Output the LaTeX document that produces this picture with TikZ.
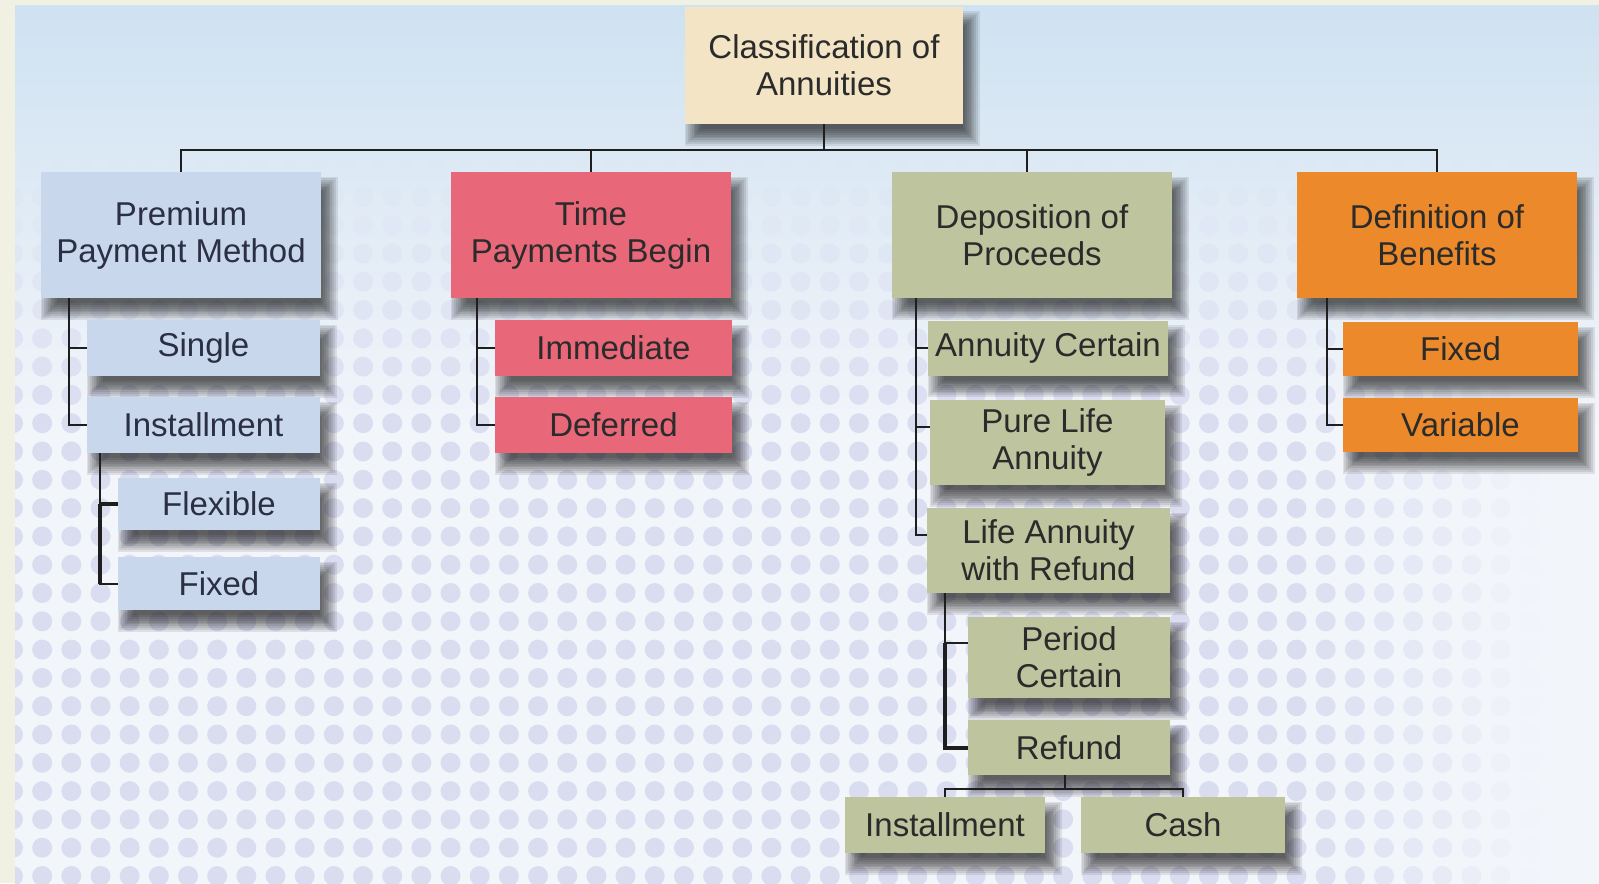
\documentclass[tikz,border=0pt]{standalone}
\usepackage{fontspec}
\setmainfont{Liberation Sans}
\usetikzlibrary{calc}
\definecolor{cream}{HTML}{F0F1E2}
\definecolor{bgtop}{HTML}{CFE2F1}
\definecolor{bglow}{HTML}{F2F5FA}
\definecolor{dotc}{HTML}{DADDF0}
\definecolor{cRoot}{HTML}{F2E4C4}
\definecolor{cBlue}{HTML}{C9D7EC}
\definecolor{cRed}{HTML}{E86879}
\definecolor{cSage}{HTML}{BDC49E}
\definecolor{cOrange}{HTML}{EC8A2B}
\definecolor{ink}{HTML}{2B2B2B}
\definecolor{inkBlue}{HTML}{2A2F45}
\definecolor{lineC}{HTML}{1E1E1E}
\pgfdeclarelayer{back}\pgfdeclarelayer{shad}\pgfsetlayers{back,shad,main}
\pgfdeclareverticalshading{bgshade}{100bp}{color(0bp)=(bglow); color(25bp)=(bglow); color(51bp)=(bglow); color(75bp)=(bgtop); color(100bp)=(bgtop)}
\tikzset{
  box/.style={draw=none, inner sep=0pt, align=center, text=ink, font=\fontsize{16.5}{18.5}\selectfont},
  bluebox/.style={box, fill=cBlue, text=inkBlue},
  conn/.style={draw=lineC, line width=1pt},
  thickconn/.style={draw=lineC, line width=2pt},
}
\begin{document}
\begin{tikzpicture}[x=0.5pt,y=-0.5pt]
\useasboundingbox (0,0) rectangle (1599,883);
\begin{pgfonlayer}{back}
  \fill[cream] (0,0) rectangle (1599,883);
  \shade[shading=bgshade] (15,6) rectangle (1599,883);
  \begin{scope}
    \clip (15,6) rectangle (1599,883);
    \foreach \i in {0,...,54}{
      \foreach \j in {0,...,30}{
        \pgfmathsetmacro\xx{13+29.17*\i}
        \pgfmathsetmacro\yy{27+28.3*\j}
        \pgfmathsetmacro\hh{min(1,max(0,(1540-\xx)/240))}
        \pgfmathsetmacro\vv{min(1,max(0,(\yy-150)/270))}
        \pgfmathsetmacro\ss{100*\hh*\vv}
        \pgfmathsetmacro\tt{min(100,max(0,(\yy-6)/4.14))}
        \ifdim\ss pt>0.5pt
          \colorlet{bgc}{bglow!\tt!bgtop}
          \colorlet{dc}{dotc!\ss!bgc}
          \fill[dc] (\xx,\yy) circle[radius=10];
        \fi
      }
    }
  \end{scope}
\end{pgfonlayer}

% nodes
\node[box, fill=cRoot, minimum width=139pt, minimum height=58.5pt] (root) at (824,65.5) {Classification of\\Annuities};

\node[bluebox, minimum width=140pt, minimum height=63pt] (prem) at (181,235) {Premium\\Payment Method};
\node[box, fill=cRed, minimum width=140pt, minimum height=63pt] (time) at (591,235) {Time\\Payments Begin};
\node[box, fill=cSage, minimum width=140pt, minimum height=63pt] (dep) at (1032,235) {Deposition of\\Proceeds};
\node[box, fill=cOrange, minimum width=140pt, minimum height=63pt] (defn) at (1437,235) {Definition of\\Benefits};

\node[bluebox, minimum width=116.5pt, minimum height=28pt] (single) at (203.5,348) {Single};
\node[bluebox, minimum width=116.5pt, minimum height=28pt] (inst) at (203.5,425) {Installment};
\node[bluebox, minimum width=101pt, minimum height=26pt] (flex) at (219,504) {Flexible};
\node[bluebox, minimum width=101pt, minimum height=26.5pt] (pfixed) at (219,583.5) {Fixed};

\node[box, fill=cRed, minimum width=118.5pt, minimum height=28pt] (immed) at (613.5,348) {Immediate};
\node[box, fill=cRed, minimum width=118.5pt, minimum height=28pt] (defer) at (613.5,425) {Deferred};

\node[box, fill=cSage, minimum width=120pt, minimum height=27.5pt] (acert) at (1048,348) {Annuity Certain};
\node[box, fill=cSage, minimum width=117.5pt, minimum height=42.5pt] (pla) at (1047.5,442.5) {Pure Life\\Annuity};
\node[box, fill=cSage, minimum width=121.5pt, minimum height=42.5pt] (lawr) at (1048.5,550.5) {Life Annuity\\with Refund};
\node[box, fill=cSage, minimum width=101pt, minimum height=40.5pt] (pcert) at (1069,657.5) {Period\\Certain};
\node[box, fill=cSage, minimum width=101pt, minimum height=27.5pt] (refund) at (1069,747.5) {Refund};
\node[box, fill=cSage, minimum width=100pt, minimum height=28pt] (rinst) at (945,825) {Installment};
\node[box, fill=cSage, minimum width=102pt, minimum height=28pt] (cash) at (1183,825) {Cash};

\node[box, fill=cOrange, minimum width=117.5pt, minimum height=27pt] (bfixed) at (1460.5,349) {Fixed};
\node[box, fill=cOrange, minimum width=117.5pt, minimum height=27pt] (bvar) at (1460.5,425) {Variable};

% shadows
\begin{pgfonlayer}{shad}
\foreach \n in {root,prem,time,dep,defn,single,inst,flex,pfixed,immed,defer,acert,pla,lawr,pcert,refund,rinst,cash,bfixed,bvar}{
  \foreach \k in {0,...,9}{
    \pgfmathsetmacro\e{(\k-4.5)*1.8}
    \fill[black,opacity=0.085] ($(\n.north west)+(8-\e,13-\e)$) rectangle ($(\n.south east)+(8+\e,13+\e)$);
  }
}
\end{pgfonlayer}

% connectors
\coordinate (busy) at (0,150);
\draw[conn] (root.south) -- (root.south |- busy);
\draw[conn] (prem.north) -- (prem.north |- busy) -- (defn.north |- busy) -- (defn.north);
\draw[conn] (time.north) -- (time.north |- busy);
\draw[conn] ($(dep.north)+(-5,0)$) -- ($(dep.north |- busy)+(-5,0)$);

\coordinate (pl) at (69,0);
\draw[conn] (prem.south -| pl) |- (inst.west);
\draw[conn] (pl |- single.west) -- (single.west);

\coordinate (il) at (100,0);
\draw[conn] (inst.south -| il) |- (pfixed.west);
\draw[thickconn] (il |- flex.west) -- (flex.west);
\draw[thickconn] (il |- flex.west) -- (il |- pfixed.west);

\coordinate (tl) at (477,0);
\draw[conn] (time.south -| tl) |- (defer.west);
\draw[conn] (tl |- immed.west) -- (immed.west);

\coordinate (dl) at (916,0);
\coordinate (lawrT) at ($(lawr.west)+(0,-16)$);
\coordinate (plaT) at ($(pla.west)+(0,-16)$);
\draw[conn] (dep.south -| dl) |- (lawrT);
\draw[conn] (dl |- plaT) -- (plaT);
\draw[conn] (dl |- acert.west) -- (acert.west);

\coordinate (sl) at (945,0);
\coordinate (pcT) at ($(pcert.west)+(0,-15)$);
\draw[conn] (lawr.south -| sl) |- (refund.west);
\draw[conn] (sl |- pcT) -- (pcT);
\draw[thickconn] (sl |- pcT) |- (refund.west);

\coordinate (rby) at (0,789);
\draw[conn] ($(refund.south)+(-4,0)$) -- ($(refund.south |- rby)+(-4,0)$);
\draw[conn] (rinst.north) -- (rinst.north |- rby) -- (cash.north |- rby) -- (cash.north);

\coordinate (bl) at (1327,0);
\draw[conn] (defn.south -| bl) |- (bvar.west);
\draw[conn] (bl |- bfixed.west) -- (bfixed.west);
\end{tikzpicture}
\end{document}
